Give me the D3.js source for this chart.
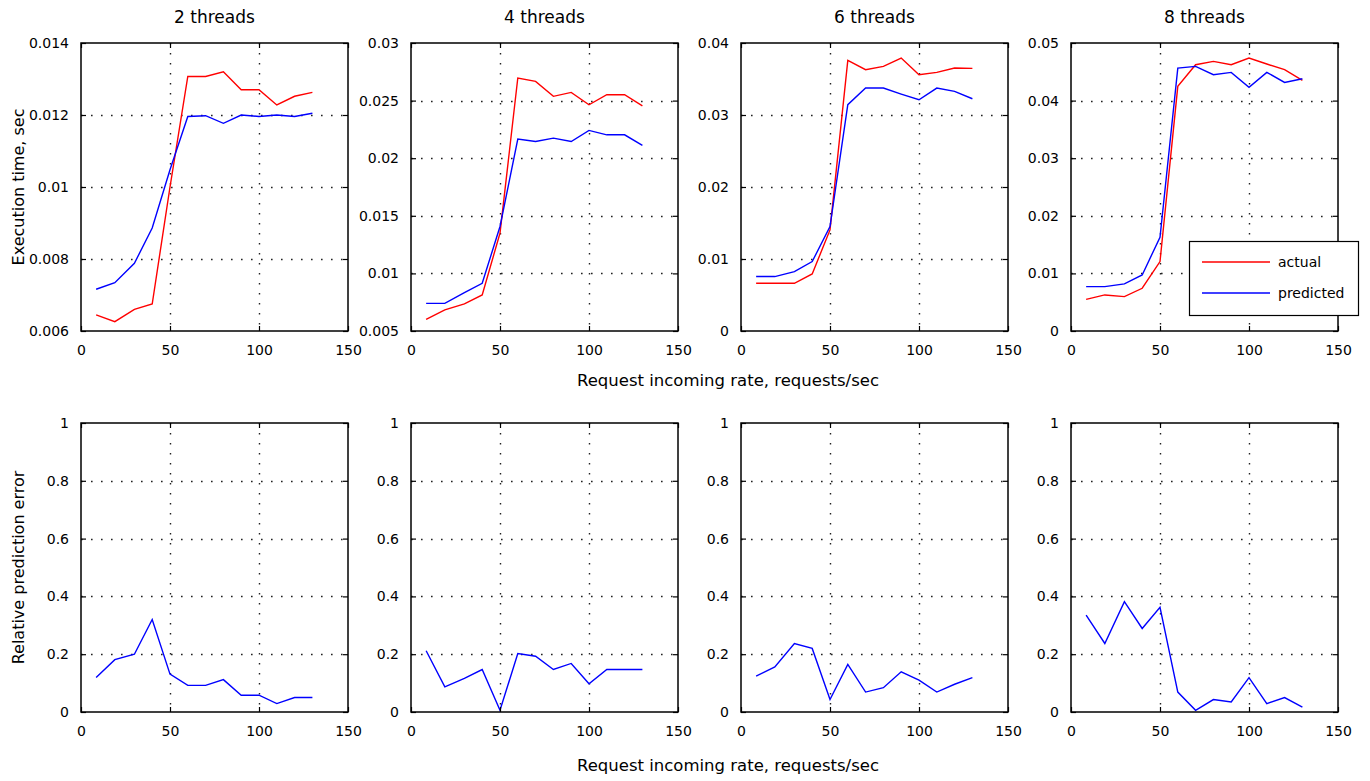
<!DOCTYPE html>
<html>
<head>
<meta charset="utf-8">
<script src="https://cdn.jsdelivr.net/npm/d3@7/dist/d3.min.js"></script>
<style>
  html, body { margin: 0; padding: 0; background: #fff; }
  svg { display: block; }
  text { font-family: "DejaVu Sans", sans-serif; fill: #000; }
</style>
</head>
<body>
<svg id="chart" width="1370" height="781"></svg>
<script>
// ---------------- data ----------------
const rates = [8.5, 19, 30, 40, 50, 60, 70, 80, 90, 100, 110, 120, 130];
const panelTitles = ["2 threads", "4 threads", "6 threads", "8 threads"];

const actual2    = [0.00645, 0.00626, 0.0066, 0.00675, 0.0100, 0.01307, 0.01307, 0.0132, 0.0127, 0.0127, 0.01228, 0.01252, 0.01263];
const predicted2 = [0.00716, 0.00734, 0.00788, 0.00886, 0.01048, 0.01196, 0.01198, 0.01177, 0.0120, 0.01196, 0.0120, 0.01196, 0.01205];
const actual4    = [0.00601, 0.00683, 0.00735, 0.00813, 0.01349, 0.02696, 0.02667, 0.02537, 0.02571, 0.02464, 0.02551, 0.02551, 0.02455];
const predicted4 = [0.0074, 0.0074, 0.00833, 0.00914, 0.01407, 0.02166, 0.02145, 0.02174, 0.02145, 0.02241, 0.02203, 0.02203, 0.02111];
const actual6    = [0.00663, 0.00663, 0.00663, 0.00793, 0.01404, 0.03759, 0.03629, 0.03676, 0.03791, 0.0356, 0.03592, 0.03652, 0.03648];
const predicted6 = [0.00756, 0.00756, 0.00825, 0.00964, 0.01451, 0.03143, 0.03374, 0.03374, 0.03291, 0.03212, 0.03374, 0.03328, 0.03226];
const actual8    = [0.0055, 0.00626, 0.00597, 0.00742, 0.01205, 0.04247, 0.04623, 0.04681, 0.04623, 0.04739, 0.04635, 0.04537, 0.04351];
const predicted8 = [0.00771, 0.00771, 0.00817, 0.00973, 0.01628, 0.04565, 0.04594, 0.0445, 0.0449, 0.0423, 0.0449, 0.04316, 0.0438];

const error2 = [0.119, 0.181, 0.200, 0.320, 0.131, 0.092, 0.092, 0.112, 0.058, 0.058, 0.029, 0.050, 0.050];
const error4 = [0.212, 0.087, 0.116, 0.147, 0.006, 0.202, 0.193, 0.147, 0.168, 0.098, 0.147, 0.147, 0.147];
const error6 = [0.124, 0.156, 0.237, 0.220, 0.043, 0.165, 0.069, 0.084, 0.139, 0.110, 0.069, 0.096, 0.119];
const error8 = [0.335, 0.237, 0.382, 0.289, 0.362, 0.069, 0.006, 0.043, 0.035, 0.119, 0.029, 0.050, 0.017];

const xTicks = [0, 50, 100, 150];
const topDomains = [[0.006, 0.014], [0.005, 0.03], [0, 0.04], [0, 0.05]];
const topTicks = [
  [0.006, 0.008, 0.01, 0.012, 0.014],
  [0.005, 0.01, 0.015, 0.02, 0.025, 0.03],
  [0, 0.01, 0.02, 0.03, 0.04],
  [0, 0.01, 0.02, 0.03, 0.04, 0.05]
];
const errTicks = [0, 0.2, 0.4, 0.6, 0.8, 1];
const legendLabels = ["actual", "predicted"];
const xLabel = "Request incoming rate, requests/sec";
const yLabelTop = "Execution time, sec";
const yLabelBottom = "Relative prediction error";

const actualSeries = [actual2, actual4, actual6, actual8];
const predictedSeries = [predicted2, predicted4, predicted6, predicted8];
const errorSeries = [error2, error4, error6, error8];

// ---------------- layout ----------------
const svg = d3.select("#chart");
const lefts = [81, 411, 741, 1071];
const pw = 267;
const rows = [{top: 43, h: 288}, {top: 423, h: 289}];
const RED = "#ff0000", BLUE = "#0000ff";

function fmt(v) {
  if (v === 0) return "0";
  return String(+v.toFixed(4));
}

function drawPanel(left, row, domain, yTicks, seriesList, colors, title, yLabel) {
  const g = svg.append("g").attr("transform", `translate(${left},${row.top})`);
  const x = d3.scaleLinear().domain([0, 150]).range([0, pw]);
  const y = d3.scaleLinear().domain(domain).range([row.h, 0]);

  // grid
  const gridX = xTicks.filter(t => t > 0 && t < 150);
  const gridY = yTicks.filter(t => t > domain[0] && t < domain[1]);
  g.append("g").selectAll("line").data(gridX).join("line")
    .attr("x1", d => Math.round(x(d)) + 0.5).attr("x2", d => Math.round(x(d)) + 0.5)
    .attr("y1", 0).attr("y2", row.h)
    .attr("stroke", "#222").attr("stroke-width", 1.4).attr("stroke-dasharray", "1.6,8.4");
  g.append("g").selectAll("line").data(gridY).join("line")
    .attr("y1", d => Math.round(y(d)) + 0.5).attr("y2", d => Math.round(y(d)) + 0.5)
    .attr("x1", 0).attr("x2", pw)
    .attr("stroke", "#222").attr("stroke-width", 1.4).attr("stroke-dasharray", "1.6,8.4");

  // series
  const line = d3.line().x((d, i) => x(rates[i])).y(d => y(d));
  seriesList.forEach((s, k) => {
    g.append("path").datum(s).attr("d", line)
      .attr("fill", "none").attr("stroke", colors[k]).attr("stroke-width", 1.4);
  });

  // axes (inward ticks on all four sides)
  const axB = g.append("g").attr("transform", `translate(0,${row.h})`)
    .call(d3.axisBottom(x).tickValues(xTicks).tickFormat(d => d).tickSizeInner(-5).tickSizeOuter(0).tickPadding(14));
  const axT = g.append("g")
    .call(d3.axisTop(x).tickValues(xTicks).tickFormat("").tickSizeInner(-5).tickSizeOuter(0));
  const axL = g.append("g")
    .call(d3.axisLeft(y).tickValues(yTicks).tickFormat(fmt).tickSizeInner(-5).tickSizeOuter(0).tickPadding(12));
  const axR = g.append("g").attr("transform", `translate(${pw},0)`)
    .call(d3.axisRight(y).tickValues(yTicks).tickFormat("").tickSizeInner(-5).tickSizeOuter(0));
  [axB, axT, axL, axR].forEach(a => {
    a.select(".domain").remove();
    a.selectAll(".tick line").attr("stroke", "#000").attr("stroke-width", 1.2);
    a.selectAll("text").attr("font-family", "DejaVu Sans").attr("font-size", 14).attr("fill", "#000");
  });

  // frame
  g.append("rect").attr("x", 0).attr("y", 0).attr("width", pw).attr("height", row.h)
    .attr("fill", "none").attr("stroke", "#000").attr("stroke-width", 1.5);

  if (title) {
    g.append("text").attr("x", pw / 2).attr("y", -20).attr("text-anchor", "middle")
      .attr("font-size", 17).text(title);
  }
  if (yLabel) {
    g.append("text").attr("transform", `translate(${-57},${row.h / 2}) rotate(-90)`)
      .attr("text-anchor", "middle").attr("font-size", 16).text(yLabel);
  }
  return {g, x, y};
}

for (let i = 0; i < 4; i++) {
  drawPanel(lefts[i], rows[0], topDomains[i], topTicks[i],
    [actualSeries[i], predictedSeries[i]], [RED, BLUE], panelTitles[i], i === 0 ? yLabelTop : null);
  const p = drawPanel(lefts[i], rows[1], [0, 1], errTicks,
    [errorSeries[i]], [BLUE], null, i === 0 ? yLabelBottom : null);
}

// x-axis labels
svg.append("text").attr("x", 728).attr("y", 386).attr("text-anchor", "middle")
  .attr("font-size", 16.5).text(xLabel);
svg.append("text").attr("x", 728).attr("y", 771).attr("text-anchor", "middle")
  .attr("font-size", 16.5).text(xLabel);

// legend (in 8 threads panel)
const lg = svg.append("g").attr("transform", "translate(1189,241)");
lg.append("rect").attr("x", 0.5).attr("y", 0.5).attr("width", 169).attr("height", 74)
  .attr("fill", "#fff").attr("stroke", "#000").attr("stroke-width", 1.2);
[RED, BLUE].forEach((c, k) => {
  const yy = 21 + k * 31;
  lg.append("line").attr("x1", 13).attr("x2", 81).attr("y1", yy).attr("y2", yy)
    .attr("stroke", c).attr("stroke-width", 1.4);
  lg.append("text").attr("x", 89).attr("y", yy + 5).attr("font-size", 14).text(legendLabels[k]);
});
</script>
</body>
</html>
